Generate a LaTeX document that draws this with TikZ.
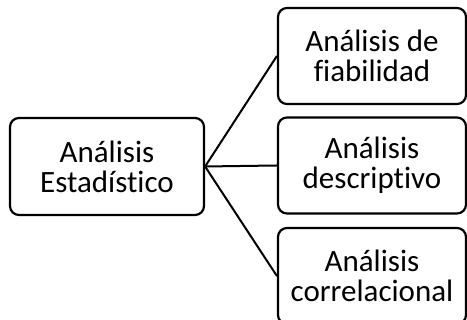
\documentclass[tikz,border=0pt]{standalone}
\usepackage{fontspec}
\setmainfont[Ligatures={NoCommon}]{Carlito}
\usepackage{tikz}
\usetikzlibrary{positioning}
\tikzset{
  anbox/.style={draw=black,line width=2.2pt,rounded corners=9pt,align=center,inner sep=0pt,font=\fontsize{31}{30}\selectfont},
  rootnode/.style={anbox,minimum width=194pt,minimum height=97pt},
  leafnode/.style={anbox,minimum width=188pt,minimum height=96pt},
  linkedge/.style={line width=2pt,black},
}
\begin{document}
\begin{tikzpicture}[x=1pt,y=1pt]
    \useasboundingbox (0,0) rectangle (467,320);
    \node[rootnode] (root) at (107,153.5) {Análisis\\Estadístico};
    \node[leafnode] (fiab) at (372,264) {Análisis de\\fiabilidad};
    \node[leafnode] (desc) at (372,154.5) {Análisis\\descriptivo};
    \node[leafnode] (corr) at (372,44) {Análisis\\correlacional};
    \draw[linkedge] (root.east) -- (fiab.west);
    \draw[linkedge] (root.east) -- (desc.west);
    \draw[linkedge] (root.east) -- (corr.west);
  \end{tikzpicture}
\end{document}
